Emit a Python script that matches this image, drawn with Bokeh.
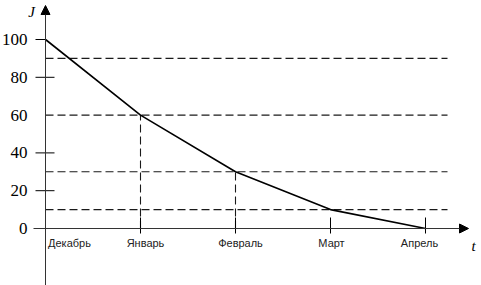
from bokeh.plotting import figure
from bokeh.models import Range1d, Arrow, NormalHead
from bokeh.core.properties import value
from bokeh.embed import file_html
from bokeh.resources import INLINE

months = ["Декабрь", "Январь", "Февраль", "Март", "Апрель"]
J_values = [100, 60, 30, 10, 0]
y_ticks = [0, 20, 40, 60, 80, 100]
levels = [90, 60, 30, 10]
drop_months = [1, 2]  # Январь, Февраль: vertical dashed drop lines
label_shift_px = [24, 5, 5, 1, -6]

W, H = 481, 285
x0_px, dx_px = 45, 95
y0_px, dy_px = 228, 1.89

SERIF = "Liberation Serif"

def xr(px):
    return (px - x0_px) / dx_px

def yr(py):
    return (y0_px - py) / dy_px

p = figure(width=W, height=H, output_backend="svg", toolbar_location=None,
           x_range=Range1d(xr(0), xr(W)), y_range=Range1d(yr(H), yr(0)),
           min_border=0, min_border_left=0, min_border_right=0,
           min_border_top=0, min_border_bottom=0)
p.axis.visible = False
p.grid.visible = False
p.outline_line_color = None
p.background_fill_color = "white"

xs = list(range(len(months)))

# horizontal dashed level lines
for lv in levels:
    p.line([xs[0], xr(447)], [lv, lv], line_color="#1a1a1a", line_width=1.1, line_dash="8 4")
# vertical dashed drop lines
for i in drop_months:
    p.line([xs[i], xs[i]], [0, J_values[i]], line_color="#1a1a1a", line_width=1.1, line_dash="8 4")

# axes
p.add_layout(Arrow(end=NormalHead(size=9, fill_color="black", line_color="black"),
                   x_start=0, y_start=yr(285), x_end=0, y_end=yr(5),
                   line_color="#333333", line_width=1))
p.add_layout(Arrow(end=NormalHead(size=9, fill_color="black", line_color="black"),
                   x_start=xr(33), y_start=0, x_end=xr(468), y_end=0,
                   line_color="#333333", line_width=1))

# y ticks
for t in y_ticks:
    if t in (0, 60):
        continue
    p.line([xr(35), xr(54) if t != 100 else 0], [t, t], line_color="black", line_width=1)
# x ticks
for i in xs[1:]:
    p.line([i, i], [yr(233), yr(217)], line_color="black", line_width=1)

# curve
p.line(xs, J_values, line_color="black", line_width=1.6)

# labels
p.text([xr(27)] * len(y_ticks), y_ticks, text=[str(t) for t in y_ticks],
       text_align="right", text_baseline="middle",
       text_font=value(SERIF), text_font_size="17px", text_color="black")
p.text([i + s / dx_px for i, s in zip(xs, label_shift_px)], [yr(242)] * len(xs),
       text=months, text_align="center", text_baseline="middle",
       text_font=value("Liberation Sans"), text_font_size="11px", text_color="#222222")
p.text([xr(31)], [yr(11)], text=["J"], text_align="center", text_baseline="middle",
       text_font=value(SERIF), text_font_style="italic",
       text_font_size="15px", text_color="black")
p.text([xr(473)], [yr(245)], text=["t"], text_align="center", text_baseline="middle",
       text_font=value(SERIF), text_font_style="italic",
       text_font_size="15px", text_color="black")

open("out.html", "w").write(file_html(p, INLINE))
